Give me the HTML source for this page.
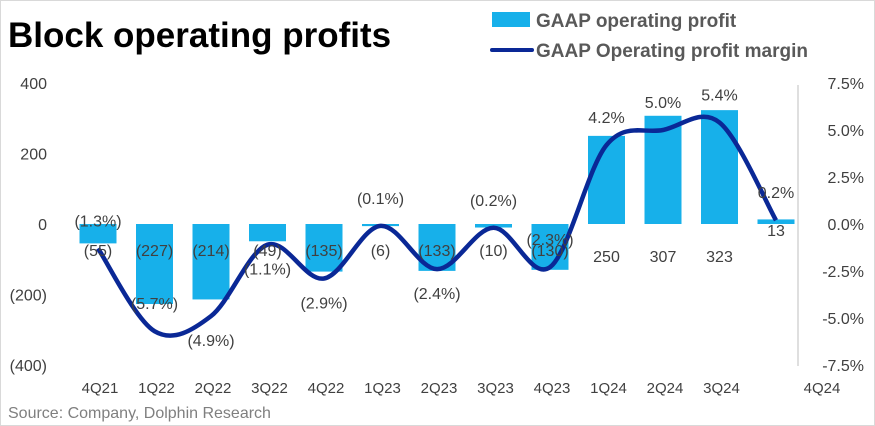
<!DOCTYPE html>
<html><head><meta charset="utf-8"><style>
body{margin:0;background:#fff;}
svg{display:block;font-family:"Liberation Sans",sans-serif;}
</style></head><body>
<svg id="c" width="875" height="426" viewBox="0 0 875 426">
<rect x="0.5" y="0.5" width="874" height="425" fill="#fff" stroke="#d9d9d9"/>
<text x="8" y="47" font-size="35" font-weight="bold" fill="#000">Block operating profits</text>
<rect x="492" y="12" width="38" height="15" fill="#17b0ea"/>
<text x="536" y="27" font-size="19" font-weight="bold" fill="#595959">GAAP operating profit</text>
<line x1="492" y1="50" x2="532" y2="50" stroke="#0a2896" stroke-width="4" stroke-linecap="round"/>
<text x="536" y="57" font-size="19" font-weight="bold" fill="#595959">GAAP Operating profit margin</text>
<line x1="798" y1="85" x2="798" y2="366" stroke="#bfbfbf"/>
<g id="g"></g>
<text x="8" y="418" font-size="16" fill="#7f7f7f">Source: Company, Dolphin Research</text>
</svg>
<script>
const categories=["4Q21","1Q22","2Q22","3Q22","4Q22","1Q23","2Q23","3Q23","4Q23","1Q24","2Q24","3Q24","4Q24"];
const profit=[-55,-227,-214,-49,-135,-6,-133,-10,-130,250,307,323,13];
const margin=[-1.3,-5.7,-4.9,-1.1,-2.9,-0.1,-2.4,-0.2,-2.3,4.2,5.0,5.4,0.2];
const profitLabels=["(55)","(227)","(214)","(49)","(135)","(6)","(133)","(10)","(130)","250","307","323","13"];
const marginLabels=["(1.3%)","(5.7%)","(4.9%)","(1.1%)","(2.9%)","(0.1%)","(2.4%)","(0.2%)","(2.3%)","4.2%","5.0%","5.4%","0.2%"];
const marginLabelAbove=[1,1,0,0,0,1,0,1,1,1,1,1,1];
const leftTicks=[400,200,0,-200,-400];
const leftTickLabels=["400","200","0","(200)","(400)"];
const rightTicks=[7.5,5,2.5,0,-2.5,-5,-7.5];
const rightTickLabels=["7.5%","5.0%","2.5%","0.0%","-2.5%","-5.0%","-7.5%"];
const NS="http://www.w3.org/2000/svg",g=document.getElementById('g');
const yL=v=>224-v*(141/400), yR=v=>224-v*(141/7.5), xC=i=>98+i*56.5;
function mk(t,a,txt){const e=document.createElementNS(NS,t);for(const k in a)e.setAttribute(k,a[k]);if(txt!=null)e.textContent=txt;g.appendChild(e);return e;}
leftTicks.forEach((v,i)=>{const e=mk('text',{x:47,y:yL(v)+6,'font-size':16,fill:'#404040','text-anchor':'end'},leftTickLabels[i]);

});
rightTicks.forEach((v,i)=>{const e=mk('text',{x:864,y:yR(v)+6,'font-size':16,fill:'#404040','text-anchor':'end'},rightTickLabels[i]);

});
profit.forEach((v,i)=>{const y0=yL(0),y1=yL(v);const b=mk('rect',{x:xC(i)-18.5,y:Math.min(y0,y1),width:37,height:Math.abs(y1-y0),fill:'#17b0ea'});

});
const pts=margin.map((v,i)=>[xC(i),yR(v)]);
let d='M'+pts[0][0]+','+pts[0][1];
for(let i=0;i<pts.length-1;i++){const p0=pts[Math.max(0,i-1)],p1=pts[i],p2=pts[i+1],p3=pts[Math.min(pts.length-1,i+2)];
d+=` C${p1[0]+(p2[0]-p0[0])/6},${p1[1]+(p2[1]-p0[1])/6} ${p2[0]-(p3[0]-p1[0])/6},${p2[1]-(p3[1]-p1[1])/6} ${p2[0]},${p2[1]}`;}
const ln=mk('path',{d:d,fill:'none',stroke:'#0a2896','stroke-width':4.5,'stroke-linejoin':'round'});


profit.forEach((v,i)=>{const y=v<0?256:(v>50?262:236);const e=mk('text',{x:xC(i),y:y,'font-size':16,fill:'#404040','text-anchor':'middle'},profitLabels[i]);

});
margin.forEach((v,i)=>{const y=marginLabelAbove[i]?yR(v)-22:yR(v)+30;const e=mk('text',{x:xC(i),y:y,'font-size':16,fill:'#404040','text-anchor':'middle'},marginLabels[i]);

});
categories.forEach((c,i)=>{const e=mk('text',{x:i==12?xC(i)+46:xC(i)+2,y:393,'font-size':15,fill:'#404040','text-anchor':'middle'},c);

});
</script>
</body></html>
